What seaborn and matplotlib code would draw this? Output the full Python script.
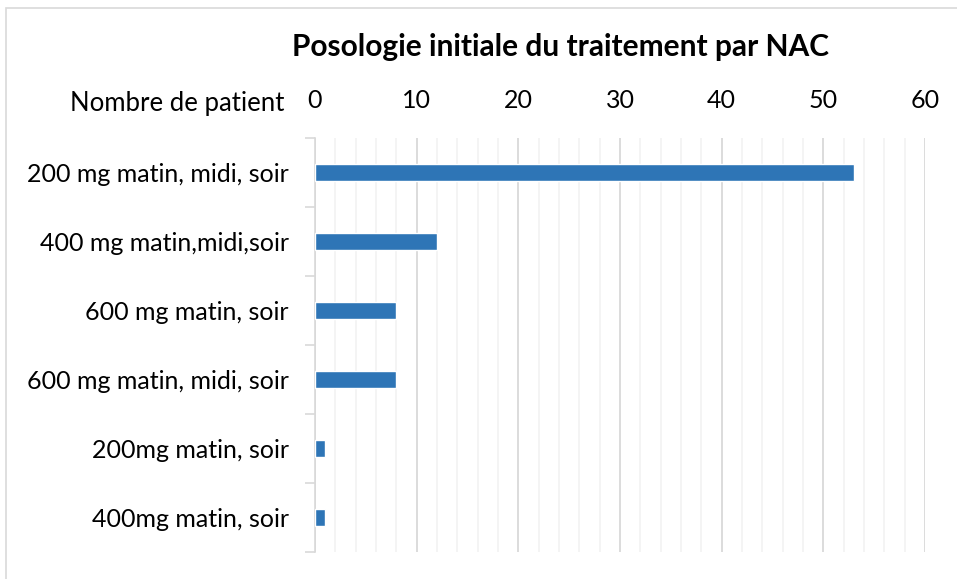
import matplotlib
matplotlib.use('Agg')
import matplotlib.pyplot as plt
import seaborn as sns
import pandas as pd
from matplotlib.ticker import MultipleLocator
from matplotlib.patches import Rectangle

# dosage schedules and number of patients
posologies = ['200 mg matin, midi, soir', '400 mg matin,midi,soir', '600 mg matin, soir',
              '600 mg matin, midi, soir', '200mg matin, soir', '400mg matin, soir']
patients = [53, 12, 8, 8, 1, 1]

df = pd.DataFrame({'posologie': posologies, 'patients': patients})

sns.set_style('white')
plt.rcParams['font.family'] = ['Lato', 'DejaVu Sans']
plt.rcParams['text.color'] = 'black'

fig = plt.figure(figsize=(9.57, 5.79), dpi=100)
ax = fig.add_axes([315 / 957, 1 - 552 / 579, 610 / 957, 414 / 579])

sns.barplot(data=df, y='posologie', x='patients', color='#2E75B6', saturation=1, width=0.26,
            orient='h', ax=ax, zorder=3)

ax.set_xlim(0, 60)
ax.set_ylim(5.5, -0.5)
ax.xaxis.set_major_locator(MultipleLocator(10))
ax.xaxis.set_minor_locator(MultipleLocator(2))
ax.xaxis.tick_top()
ax.tick_params(axis='x', which='both', length=0, pad=19, labelsize=18, colors='#000000')
ax.grid(axis='x', which='major', color='#D9D9D9', linewidth=1.3, zorder=0)
ax.grid(axis='x', which='minor', color='#F2F2F2', linewidth=1.2, zorder=0)

# category boundary ticks on left axis
ax.set_yticks(range(len(posologies)))
ax.set_yticks([i - 0.5 for i in range(len(posologies) + 1)], minor=True)
ax.tick_params(axis='y', which='major', left=False, length=0, pad=19, labelsize=18,
               labelcolor='#000000')
ax.tick_params(axis='y', which='minor', left=True, length=7, width=1.2, color='#D9D9D9',
               direction='out')

for s in ['top', 'right', 'bottom']:
    ax.spines[s].set_visible(False)
ax.spines['left'].set_color('#D9D9D9')
ax.spines['left'].set_linewidth(1.2)

ax.set_xlabel('')
ax.set_ylabel('')

fig.text(284 / 957, 1 - 103 / 579, 'Nombre de patient', ha='right', va='center', fontsize=18.5)
fig.text(560 / 957, 1 - 47 / 579, 'Posologie initiale du traitement par NAC', ha='center',
         va='center', fontsize=21.5, fontweight='bold')

fig.patches.append(Rectangle((6 / 957, -0.01), 1.1, 1 - 8 / 579 + 0.01, transform=fig.transFigure,
                             fill=False, edgecolor='#D9D9D9', linewidth=1.2))

fig.savefig('out.png', dpi=100)
